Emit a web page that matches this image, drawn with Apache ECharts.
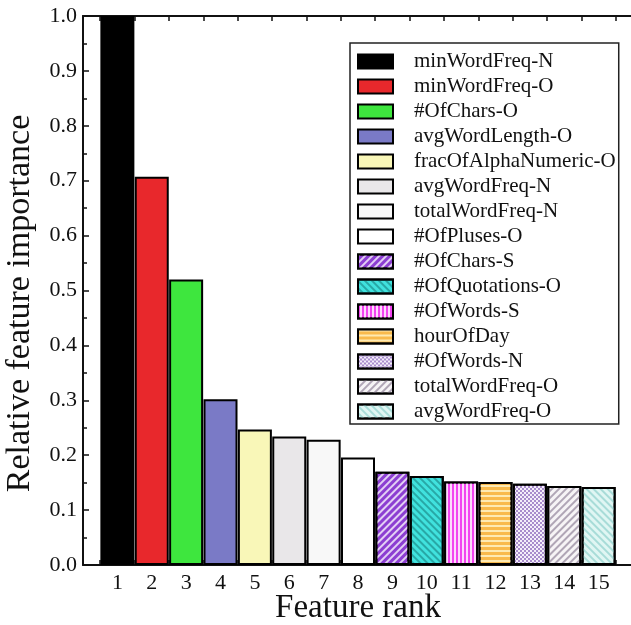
<!DOCTYPE html>
<html>
<head>
<meta charset="utf-8">
<script src="https://cdn.jsdelivr.net/npm/echarts@6/dist/echarts.min.js"></script>
<style>html,body{margin:0;padding:0;background:#fff;}#c{width:631px;height:625px;}</style>
</head>
<body>
<div id="c"></div>
<script>
var featureNames = ['minWordFreq-N','minWordFreq-O','#OfChars-O','avgWordLength-O','fracOfAlphaNumeric-O','avgWordFreq-N','totalWordFreq-N','#OfPluses-O','#OfChars-S','#OfQuotations-O','#OfWords-S','hourOfDay','#OfWords-N','totalWordFreq-O','avgWordFreq-O'];
var ranks = [1,2,3,4,5,6,7,8,9,10,11,12,13,14,15];
var importance = [1.0,0.707,0.520,0.302,0.247,0.234,0.228,0.196,0.170,0.162,0.152,0.151,0.148,0.144,0.142];
var yTicks = [0,0.1,0.2,0.3,0.4,0.5,0.6,0.7,0.8,0.9,1.0];
var xTickPos = [0.5,1.5,2.5,3.5,4.5,5.5,6.5,7.5,8.5,9.5,10.5,11.5,12.5,13.5,14.5,15.5];

var fills = ['#000000','#e8282c','#3ee63e','#7a7ac6','#f9f7b8','#e9e7e9','#f8f8f8','#ffffff','#8c3ed2','#40e2de','#f244f0','#f9ba4c','#f4eefa','#f6f4f6','#e0f6f3'];
var decals = [
  null, null, null, null, null, null, null, null,
  {color:'rgba(255,255,255,0.75)', dashArrayX:[1,0], dashArrayY:[2,3], rotation:-Math.PI/4, symbolSize:1},
  {color:'rgba(20,120,120,0.55)', dashArrayX:[1,0], dashArrayY:[2,3], rotation:Math.PI/4, symbolSize:1},
  {color:'rgba(255,255,255,0.8)', dashArrayX:[1,0], dashArrayY:[2,2], rotation:Math.PI/2, symbolSize:1},
  {color:'rgba(255,240,190,0.9)', dashArrayX:[1,0], dashArrayY:[2,3], rotation:0, symbolSize:1},
  {color:'#a88ccc', symbol:'rect', dashArrayX:[[2,2],[0,2,2,0]], dashArrayY:[2,0], symbolSize:1, rotation:0},
  {color:'#b0a6b6', dashArrayX:[1,0], dashArrayY:[2,3], rotation:-Math.PI/4, symbolSize:1},
  {color:'#a8dcd8', dashArrayX:[1,0], dashArrayY:[2,3], rotation:Math.PI/4, symbolSize:1}
];

var serif = 'Liberation Serif';
var series = featureNames.map(function(name, i){
  var st = {color: fills[i], borderColor:'#000', borderWidth:2};
  if (decals[i]) st.decal = decals[i];
  return {
    name: name,
    type: 'bar',
    stack: 'all',
    barWidth: 34,
    itemStyle: st,
    data: [[ranks[i], importance[i]]]
  };
});

var chart = echarts.init(document.getElementById('c'), null, {renderer:'canvas'});
chart.setOption({
  animation: false,
  aria: {decal: {show: false}},
  grid: {left: 83, top: 16, width: 550, height: 549, containLabel: false, outerBoundsMode: 'none'},
  legend: {
    orient: 'vertical',
    left: 350, top: 43,
    data: featureNames,
    selectedMode: false,
    itemWidth: 35, itemHeight: 14, itemGap: 4,
    padding: [8, 3, 2, 7],
    borderColor: '#222', borderWidth: 1.5,
    backgroundColor: '#fff',
    textStyle: {fontFamily: serif, fontSize: 21, color: '#111', padding: [0, 0, 0, 16]},
    icon: 'rect'
  },
  xAxis: [{
    type: 'value', min: 0, max: 16, interval: 1,
    name: 'Feature rank', nameLocation: 'middle', nameGap: 27, nameMoveOverlap: false,
    nameTextStyle: {fontFamily: serif, fontSize: 33, color: '#111'},
    axisLine: {show: true, lineStyle: {color: '#111', width: 2}},
    axisTick: {show: true, inside: true, length: 5, customValues: xTickPos, lineStyle:{color:'#111', width:1.5}},
    axisLabel: {customValues: ranks, fontFamily: serif, fontSize: 22, color: '#111', margin: 7},
    splitLine: {show: false}
  }, {
    type: 'value', min: 0, max: 16, position: 'top',
    axisLine: {show: true, onZero: false, lineStyle: {color: '#111', width: 2}},
    axisTick: {show: true, inside: true, length: 5, customValues: xTickPos, lineStyle:{color:'#111', width:1.5}},
    axisLabel: {show: false},
    splitLine: {show: false}
  }],
  yAxis: [{
    type: 'value', min: 0, max: 1, interval: 0.1,
    name: 'Relative feature importance', nameLocation: 'middle', nameGap: 46, nameMoveOverlap: false,
    nameTextStyle: {fontFamily: serif, fontSize: 34, color: '#111', padding: [0, 26, 0, 0]},
    axisLine: {show: true, lineStyle: {color: '#111', width: 2}},
    axisTick: {show: true, inside: true, length: 6, lineStyle:{color:'#111', width:1.5}},
    minorTick: {show: true, splitNumber: 2, length: 4, lineStyle:{color:'#111', width:1.5}},
    axisLabel: {fontFamily: serif, fontSize: 22, color: '#111', margin: 6, customValues: yTicks, formatter: function(v){return v.toFixed(1);}},
    splitLine: {show: false}
  }],
  series: series
});
</script>
</body>
</html>
